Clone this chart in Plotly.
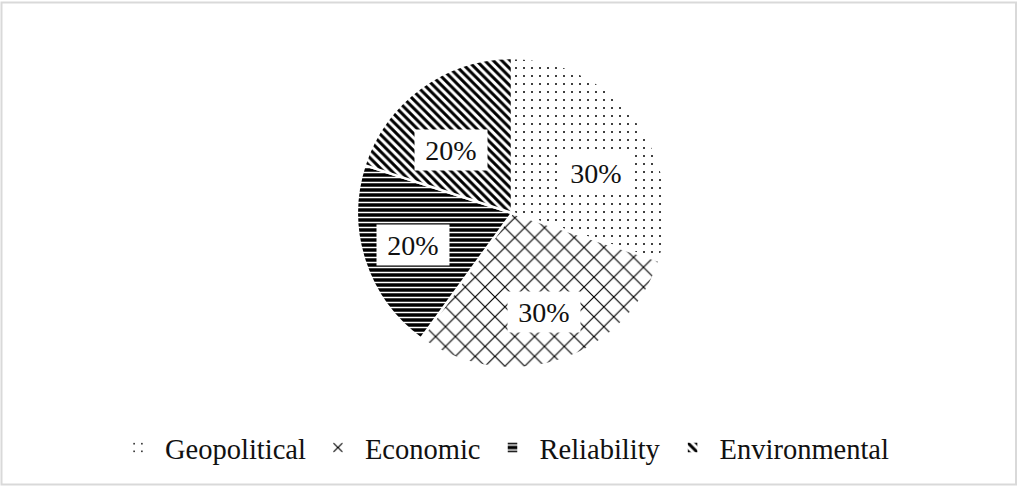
import math
import plotly.graph_objects as go

# Share of each risk category (percent)
categories = ["Geopolitical", "Economic", "Reliability", "Environmental"]
shares = [30, 30, 20, 20]

# Fill patterns for the slices
pattern_shapes = [".", "x", "-", "\\"]
pattern_fg = ["black", "black", "white", "black"]
pattern_bg = ["white", "white", "black", "white"]
pattern_size = [8, 14, 5, 6]
pattern_solidity = [0.05, 0.16, 0.3, 0.5]

W, H = 1018, 487
cx, cy, r = 512, 213, 155  # pie centre and radius in pixels
FONT = "Liberation Serif"

fig = go.Figure()
fig.add_trace(go.Pie(
    labels=categories,
    values=shares,
    sort=False,
    direction="clockwise",
    rotation=0,
    textinfo="none",
    hoverinfo="label+percent",
    marker=dict(
        colors=pattern_bg,
        line=dict(color="white", width=2.5),
        pattern=dict(
            shape=pattern_shapes,
            fgcolor=pattern_fg,
            bgcolor=pattern_bg,
            size=pattern_size,
            solidity=pattern_solidity,
            fillmode="replace",
        ),
    ),
    domain=dict(x=[(cx - r) / W, (cx + r) / W],
                y=[1 - (cy + r) / H, 1 - (cy - r) / H]),
))

# Percentage labels in white boxes, placed at each slice's mid-angle
total = sum(shares)
cum = 0
label_radius = 0.67 * r
for v in shares:
    mid = (cum + v / 2) / total * 2 * math.pi
    cum += v
    px = cx + label_radius * math.sin(mid)
    py = cy - label_radius * math.cos(mid)
    fig.add_annotation(
        x=px / W, y=1 - py / H, xref="paper", yref="paper",
        text=f"{round(v / total * 100)}%", showarrow=False,
        font=dict(family=FONT, size=28, color="#111111"),
        bgcolor="white", borderpad=0, width=72, height=40,
    )

# Chart frame
fig.add_shape(type="rect", xref="paper", yref="paper",
              x0=1.5 / W, x1=1 - 2 / W, y0=2.5 / H, y1=1 - 2.5 / H,
              line=dict(color="#d9d9d9", width=2), fillcolor="rgba(0,0,0,0)")

fig.update_layout(
    width=W, height=H,
    margin=dict(l=0, r=0, t=0, b=0),
    paper_bgcolor="white",
    plot_bgcolor="white",
    font=dict(family=FONT, size=28.5, color="#111111"),
    showlegend=True,
    legend=dict(orientation="h", x=0.5 - 6 / W, xanchor="center",
                y=(H - 448) / H, yanchor="middle",
                font=dict(family=FONT, size=28.5, color="#111111"),
                itemwidth=44, traceorder="normal"),
)

fig.write_html("out.html")
